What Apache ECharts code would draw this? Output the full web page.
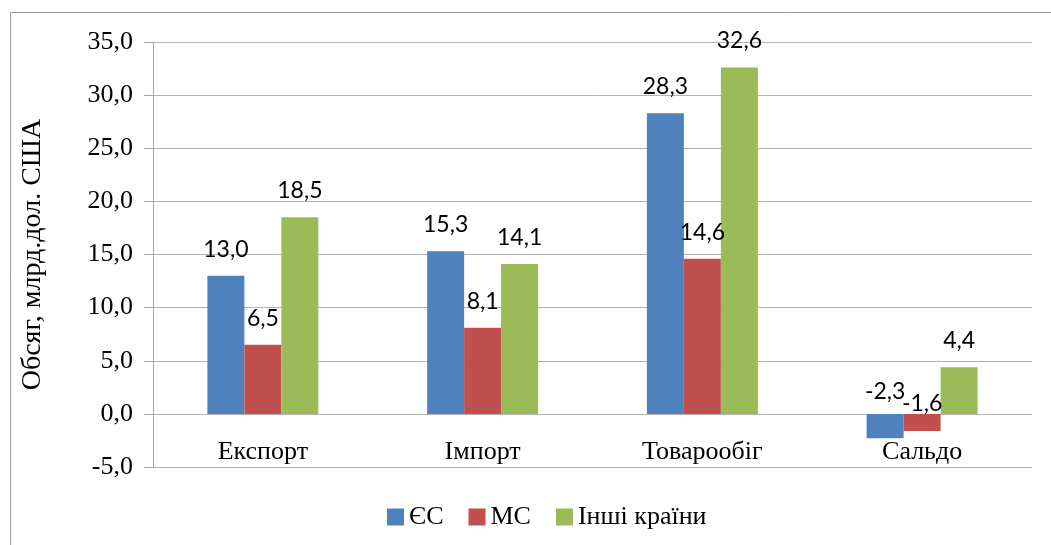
<!DOCTYPE html>
<html>
<head>
<meta charset="utf-8">
<script src="https://cdn.jsdelivr.net/npm/echarts@6/dist/echarts.min.js"></script>
<style>
  html, body { margin: 0; padding: 0; background: #fff; }
  #chart { width: 1051px; height: 545px; }
</style>
</head>
<body>
<div id="chart"></div>
<script>
// категорії та значення (млрд. дол. США)
const categories = ['Експорт', 'Імпорт', 'Товарообіг', 'Сальдо'];
const seriesNames = ['ЄС', 'МС', 'Інші країни'];
const euValues = [13.0, 15.3, 28.3, -2.3];
const msValues = [6.5, 8.1, 14.6, -1.6];
const otherValues = [18.5, 14.1, 32.6, 4.4];
const yTicks = { min: -5, max: 35, interval: 5 };

const colors = ['#4F81BD', '#C0504D', '#9BBB59'];
const serif = '"Liberation Serif", "DejaVu Serif", serif';

const fmt = (v) => v.toFixed(1).replace('.', ',');

// мітки від'ємних значень Excel ставить над нульовою лінією
const toData = (arr, negOffset) => arr.map((v) => {
  if (v >= 0) return v;
  return { value: v, label: { position: 'top', offset: [0, negOffset] } };
});

const makeSeries = (name, values, color, negOffset) => ({
  name: name,
  type: 'bar',
  data: toData(values, negOffset),
  barWidth: 37,
  barGap: '0%',
  itemStyle: { color: color },
  label: {
    show: true,
    position: 'top',
    distance: 15,
    fontFamily: 'Lato',
    fontSize: 23,
    color: '#000',
    formatter: (p) => fmt(p.value)
  }
});

const chart = echarts.init(document.getElementById('chart'));
chart.setOption({
  animation: false,
  textStyle: { fontFamily: serif, color: '#000' },
  grid: { left: 153, right: 19, top: 42, bottom: 78 },
  graphic: [{
    type: 'rect',
    shape: { x: 10.5, y: 12.5, width: 1100, height: 600 },
    style: { fill: 'none', stroke: '#999', lineWidth: 1 },
    silent: true
  }],
  legend: {
    data: seriesNames,
    bottom: 10,
    left: 382,
    itemWidth: 17,
    itemHeight: 17,
    itemGap: 25,
    icon: 'rect',
    textStyle: { fontFamily: serif, fontSize: 26, color: '#000' }
  },
  xAxis: {
    type: 'category',
    data: categories,
    axisLine: { show: false, onZero: false },
    axisTick: { show: false },
    axisLabel: {
      fontFamily: serif, fontSize: 26, color: '#000', margin: -28
    }
  },
  yAxis: {
    type: 'value',
    min: yTicks.min,
    max: yTicks.max,
    interval: yTicks.interval,
    name: 'Обсяг, млрд.дол. США',
    nameLocation: 'middle',
    nameGap: 106,
    nameTextStyle: { fontFamily: serif, fontSize: 28, color: '#000' },
    axisLine: { show: true, lineStyle: { color: '#a6a6a6' } },
    axisTick: { show: true, length: 9, lineStyle: { color: '#a6a6a6' } },
    axisLabel: {
      fontFamily: serif, fontSize: 26, color: '#000', margin: 20,
      formatter: (v) => fmt(v)
    },
    splitLine: { lineStyle: { color: '#b3b3b3' } }
  },
  series: [
    makeSeries(seriesNames[0], euValues, colors[0], 4),
    makeSeries(seriesNames[1], msValues, colors[1], 16),
    makeSeries(seriesNames[2], otherValues, colors[2], 0)
  ]
});
</script>
</body>
</html>
